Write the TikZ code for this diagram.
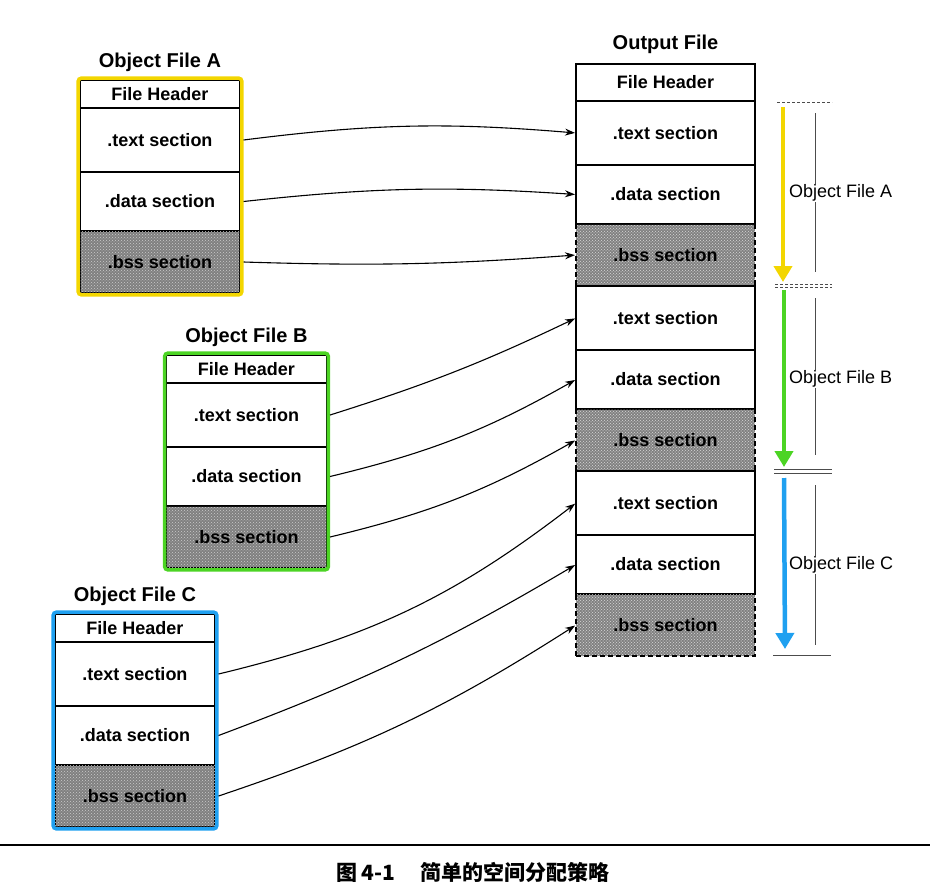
\documentclass[tikz,border=0pt]{standalone}
\usepackage{fontspec}
\setmainfont{Liberation Sans}
\newfontfamily\cjk{Noto Sans CJK SC}
\usetikzlibrary{positioning,arrows.meta,fit,patterns,backgrounds}

\definecolor{yellowA}{HTML}{F3D600}
\definecolor{greenB}{HTML}{4CD424}
\definecolor{blueC}{HTML}{1FA0F0}

\tikzset{
  sect/.style={draw, line width=1.7pt, outer sep=0pt, inner sep=0pt,
    minimum width=160pt, font=\bfseries\fontsize{18}{19}\selectfont},
  headbox/.style={sect, minimum height=28pt},
  textbox/.style={sect, minimum height=64pt},
  databox/.style={sect, minimum height=59pt},
  bssbox/.style={sect, minimum height=62pt, fill=black!50,
    postaction={pattern=crosshatch dots, pattern color=white!80!black}},
  outsect/.style={minimum width=179pt, line width=2.2pt},
  bssfill/.style={fill=black!50,
    postaction={pattern=crosshatch dots, pattern color=white!80!black}},
  dashside/.style={line width=2.2pt, dash pattern=on 5pt off 3pt},
  objframe/.style={draw=#1, line width=3.5pt, rounded corners=3pt, inner sep=1.8pt},
  ftitle/.style={font=\bfseries\fontsize{20}{22}\selectfont, inner sep=0pt},
  link/.style={line width=1.1pt, -{Stealth[length=10pt,width=7pt]}, shorten >=1pt},
  sidearrow/.style={draw=#1, line width=4.5pt, -{Triangle[length=16pt,width=18pt]}},
  guide/.style={draw=black!70, line width=0.7pt},
  sidelabel/.style={font=\fontsize{18}{20}\selectfont, fill=white, inner sep=1pt}
}

\begin{document}
\begin{tikzpicture}[x=1pt,y=-1pt]
  \useasboundingbox (0,0) rectangle (930,884);

  % Object File A
  \node[headbox] (aHead) at (160,94) {File Header};
  \node[textbox, below=0pt of aHead] (aText) {.text section};
  \node[databox, below=0pt of aText] (aData) {.data section};
  \node[bssbox, below=0pt of aData] (aBss) {.bss section};
  \node[objframe=yellowA, fit=(aHead)(aBss)] (aFrame) {};
  \node[ftitle, above=5pt of aFrame] (aTitle) {Object File A};

  % Object File B
  \node[headbox] (bHead) at (246.5,369) {File Header};
  \node[textbox, below=0pt of bHead] (bText) {.text section};
  \node[databox, below=0pt of bText] (bData) {.data section};
  \node[bssbox, below=0pt of bData] (bBss) {.bss section};
  \node[objframe=greenB, fit=(bHead)(bBss)] (bFrame) {};
  \node[ftitle, above=5pt of bFrame] (bTitle) {Object File B};

  % Object File C
  \node[headbox] (cHead) at (135,628) {File Header};
  \node[textbox, below=0pt of cHead] (cText) {.text section};
  \node[databox, below=0pt of cText] (cData) {.data section};
  \node[bssbox, below=0pt of cData] (cBss) {.bss section};
  \node[objframe=blueC, fit=(cHead)(cBss)] (cFrame) {};
  \node[ftitle, above=5pt of cFrame] (cTitle) {Object File C};

  % Output File
  \node[headbox, outsect, line width=2.8pt, minimum height=37pt] (oHead) at (665.5,82.5) {File Header};
  \node[ftitle, above=10pt of oHead] (oTitle) {Output File};
  \node[textbox, outsect, below=0pt of oHead] (oTextA) {.text section};
  \node[databox, outsect, below=0pt of oTextA] (oDataA) {.data section};
  \node[bssbox, outsect, draw=none, fill=none, postaction={}, below=0pt of oDataA] (oBssA) {.bss section};
  \node[textbox, outsect, below=0pt of oBssA] (oTextB) {.text section};
  \node[databox, outsect, below=0pt of oTextB] (oDataB) {.data section};
  \node[bssbox, outsect, draw=none, fill=none, postaction={}, below=0pt of oDataB] (oBssB) {.bss section};
  \node[textbox, outsect, below=0pt of oBssB] (oTextC) {.text section};
  \node[databox, outsect, below=0pt of oTextC] (oDataC) {.data section};
  \node[bssbox, outsect, draw=none, fill=none, postaction={}, below=0pt of oDataC] (oBssC) {.bss section};

  \begin{scope}[on background layer]
    \fill[bssfill] (oBssA.north west) rectangle (oBssA.south east);
    \fill[bssfill] (oBssB.north west) rectangle (oBssB.south east);
    \fill[bssfill] (oBssC.north west) rectangle (oBssC.south east);
  \end{scope}
  \draw[dashside] (oBssA.north west) -- (oBssA.south west);
  \draw[dashside] (oBssA.north east) -- (oBssA.south east);
  \draw[dashside] (oBssB.north west) -- (oBssB.south west);
  \draw[dashside] (oBssB.north east) -- (oBssB.south east);
  \draw[dashside] (oBssC.south west) -- (oBssC.north west);
  \draw[dashside] (oBssC.south west) -- (oBssC.south east) -- (oBssC.north east);

  % links
  \draw[link] (aText.east -| aFrame.east) to[bend left=6] (oTextA.west);
  \draw[link] (aData.east -| aFrame.east) to[bend left=5] (oDataA.west);
  \draw[link] (aBss.east -| aFrame.east) to[bend right=3] (oBssA.west);
  \draw[link] (bText.east -| bFrame.east) to[bend right=4] (oTextB.west);
  \draw[link] (bData.east -| bFrame.east) to[bend right=8] (oDataB.west);
  \draw[link] (bBss.east -| bFrame.east) to[bend right=8] (oBssB.west);
  \draw[link] (cText.east -| cFrame.east) to[bend right=12] (oTextC.west);
  \draw[link] (cData.east -| cFrame.east) to[bend right=5] (oDataC.west);
  \draw[link] (cBss.east -| cFrame.east) to[bend right=7] (oBssC.west);

  % marks on the right
  \draw[guide, densely dashed] (777,102) -- (832,102);
  \draw[guide, densely dashed] (775,284) -- (832,284);
  \draw[guide, densely dashed] (775,287) -- (832,287);
  \draw[guide] (774,469) -- (832,469);
  \draw[guide] (774,473) -- (832,473);
  \draw[guide] (773,655) -- (831,655);
  \draw[guide] (815,113) -- (815,272);
  \draw[guide] (815,298) -- (815,455);
  \draw[guide] (815,485) -- (815,645);

  \coordinate (aTop) at (783,107);
  \coordinate (aEnd) at (783,282);
  \coordinate (bTop) at (784,290);
  \coordinate (bEnd) at (784,467);
  \coordinate (cTop) at (784,478);
  \coordinate (cEnd) at (785,649);
  \draw[sidearrow=yellowA] (aTop) -- (aEnd);
  \draw[sidearrow=greenB] (bTop) -- (bEnd);
  \draw[sidearrow=blueC] (cTop) -- (cEnd);

  \node[sidelabel, anchor=west] (aLabel) at (788,193) {Object File A};
  \node[sidelabel, anchor=west] (bLabel) at (788,379) {Object File B};
  \node[sidelabel, anchor=west] (cLabel) at (788,565) {Object File C};

  % caption
  \draw[line width=1.6pt] (0,845) -- (930,845);
  \node[font=\cjk\bfseries\fontsize{21}{23}\selectfont] (caption) at (473,872) {图 4-1\hspace{1.2em}简单的空间分配策略};
\end{tikzpicture}
\end{document}
